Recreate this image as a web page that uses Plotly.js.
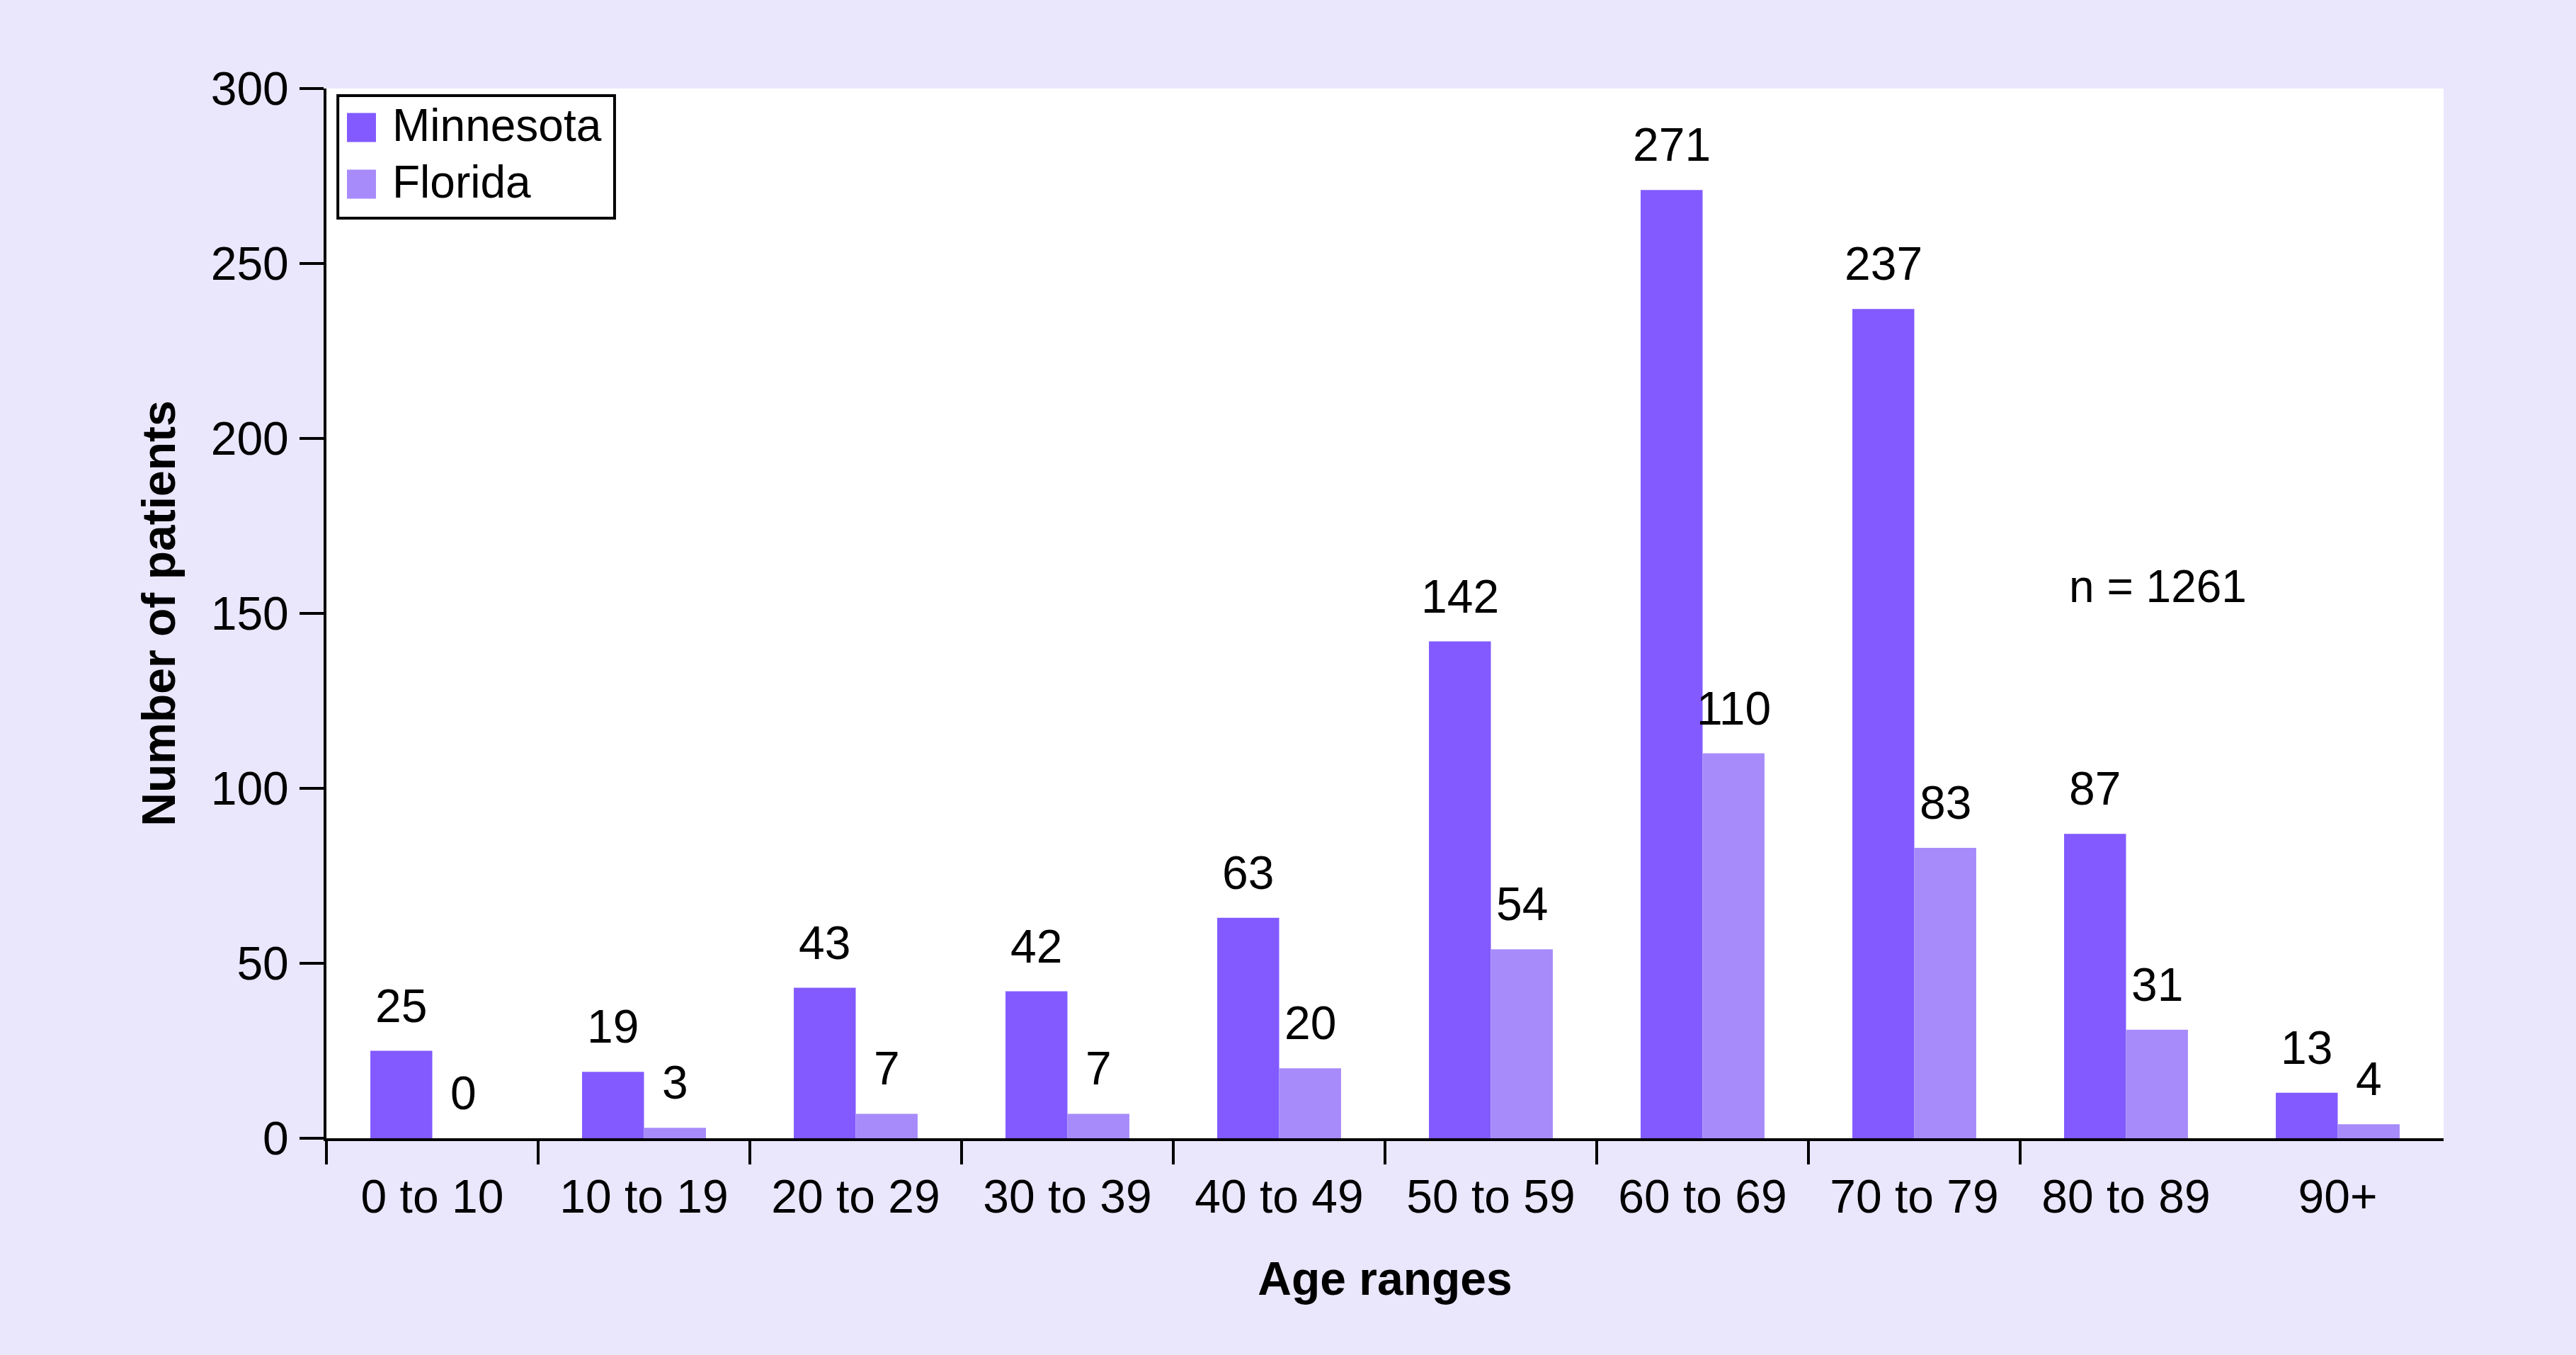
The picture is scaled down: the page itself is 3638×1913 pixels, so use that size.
<!DOCTYPE html>
<html>
<head>
<meta charset="utf-8">
<script src="https://cdn.plot.ly/plotly-3.0.1.min.js"></script>
<style>
  html, body { margin: 0; padding: 0; background: #EAE6FC; }
</style>
</head>
<body>
<div id="age-chart" style="width:3638px;height:1913px;"></div>
<script>
// chart data
var ageRanges = ['0 to 10', '10 to 19', '20 to 29', '30 to 39', '40 to 49',
                 '50 to 59', '60 to 69', '70 to 79', '80 to 89', '90+'];
var minnesotaCounts = [25, 19, 43, 42, 63, 142, 271, 237, 87, 13];
var floridaCounts = [0, 3, 7, 7, 20, 54, 110, 83, 31, 4];
var seriesNames = ['Minnesota', 'Florida'];
var seriesColors = ['rgb(130,90,255)', 'rgb(167,139,250)'];
var yTickVals = [0, 50, 100, 150, 200, 250, 300];
var totalNote = 'n = 1261';

var FONT = '"Liberation Sans", Arial, Helvetica, sans-serif';
var FS = 66;
var BAR_GAP = 0.415;
var half = (1 - BAR_GAP) / 4;   // offset of each bar centre from the category centre

var traceMN = {
  x: ageRanges,
  y: minnesotaCounts,
  name: seriesNames[0],
  type: 'bar',
  marker: { color: seriesColors[0] },
  hoverinfo: 'x+y+name'
};

var traceFL = {
  x: ageRanges,
  y: floridaCounts,
  name: seriesNames[1],
  type: 'bar',
  marker: { color: seriesColors[1] },
  hoverinfo: 'x+y+name'
};

// category boundaries get the x ticks (no tick at the far right end)
var boundaryVals = ageRanges.slice(0, ageRanges.length - 1).map(function (c, i) { return i - 0.5; });

// empty helper trace so the overlaying tick axis gets drawn
var tickHelper = {
  x: boundaryVals,
  y: boundaryVals.map(function () { return 0; }),
  xaxis: 'x2',
  yaxis: 'y',
  type: 'scatter',
  mode: 'none',
  hoverinfo: 'skip',
  showlegend: false
};

var data = [traceMN, traceFL, tickHelper];

// value labels above each bar
var valueLabels = [];
[minnesotaCounts, floridaCounts].forEach(function (vals, s) {
  vals.forEach(function (v, i) {
    valueLabels.push({
      x: i + (s === 0 ? -half : half),
      y: v,
      xref: 'x', yref: 'y',
      text: String(v),
      showarrow: false,
      xanchor: 'center', yanchor: 'bottom',
      yshift: 25,
      font: { family: FONT, size: FS, color: '#000' }
    });
  });
});

// hand drawn legend (big square swatches like the original)
var legendShapes = [
  { type: 'rect', xref: 'paper', yref: 'paper', x0: 0.0054, x1: 0.1361, y0: 0.8765, y1: 0.9933,
    line: { color: '#000', width: 4 }, fillcolor: '#fff', layer: 'above' },
  { type: 'rect', xref: 'paper', yref: 'paper', x0: 0.0097, x1: 0.0234, y0: 0.949, y1: 0.9767,
    line: { width: 0 }, fillcolor: seriesColors[0], layer: 'above' },
  { type: 'rect', xref: 'paper', yref: 'paper', x0: 0.0097, x1: 0.0234, y0: 0.8951, y1: 0.9227,
    line: { width: 0 }, fillcolor: seriesColors[1], layer: 'above' }
];
var legendText = [
  { xref: 'paper', yref: 'paper', x: 0.0304, y: 0.9650, text: seriesNames[0],
    showarrow: false, xanchor: 'left', yanchor: 'middle',
    font: { family: FONT, size: 64, color: '#000' } },
  { xref: 'paper', yref: 'paper', x: 0.0304, y: 0.9110, text: seriesNames[1],
    showarrow: false, xanchor: 'left', yanchor: 'middle',
    font: { family: FONT, size: 64, color: '#000' } }
];

var noteLabel = {
  xref: 'paper', yref: 'paper', x: 0.8649, y: 0.5256, text: totalNote,
  showarrow: false, xanchor: 'center', yanchor: 'middle',
  font: { family: FONT, size: 64, color: '#000' }
};

var layout = {
  width: 3638,
  height: 1913,
  margin: { l: 461, r: 187, t: 125, b: 306 },
  paper_bgcolor: '#EAE6FC',
  plot_bgcolor: '#FFFFFF',
  font: { family: FONT, size: FS, color: '#000' },
  showlegend: false,
  barmode: 'group',
  bargap: BAR_GAP,
  bargroupgap: 0,
  xaxis: {
    type: 'category',
    range: [-0.5, ageRanges.length - 0.5],
    showline: true,
    linecolor: '#000',
    linewidth: 4,
    ticks: '',
    showgrid: false,
    zeroline: false,
    ticklabelstandoff: 22,
    tickfont: { family: FONT, size: FS, color: '#000' },
    title: {
      text: '<b>Age ranges</b>',
      font: { family: FONT, size: 66, color: '#000' },
      standoff: 58
    }
  },
  xaxis2: {
    overlaying: 'x',
    anchor: 'y',
    type: 'linear',
    range: [-0.5, ageRanges.length - 0.5],
    tickvals: boundaryVals,
    showticklabels: false,
    ticks: 'outside',
    ticklen: 36,
    tickwidth: 4,
    tickcolor: '#000',
    showgrid: false,
    zeroline: false,
    showline: false,
    side: 'bottom'
  },
  yaxis: {
    range: [0, 300],
    tickvals: yTickVals,
    showline: true,
    linecolor: '#000',
    linewidth: 4,
    ticks: 'outside',
    ticklen: 34,
    tickwidth: 4,
    tickcolor: '#000',
    showgrid: false,
    zeroline: false,
    ticklabelstandoff: 2,
    tickfont: { family: FONT, size: FS, color: '#000' },
    title: {
      text: '<b>Number of patients</b>',
      font: { family: FONT, size: 66, color: '#000' },
      standoff: 30
    }
  },
  shapes: legendShapes,
  annotations: valueLabels.concat(legendText, [noteLabel])
};

Plotly.newPlot('age-chart', data, layout, { displayModeBar: false, staticPlot: true });
</script>
</body>
</html>
